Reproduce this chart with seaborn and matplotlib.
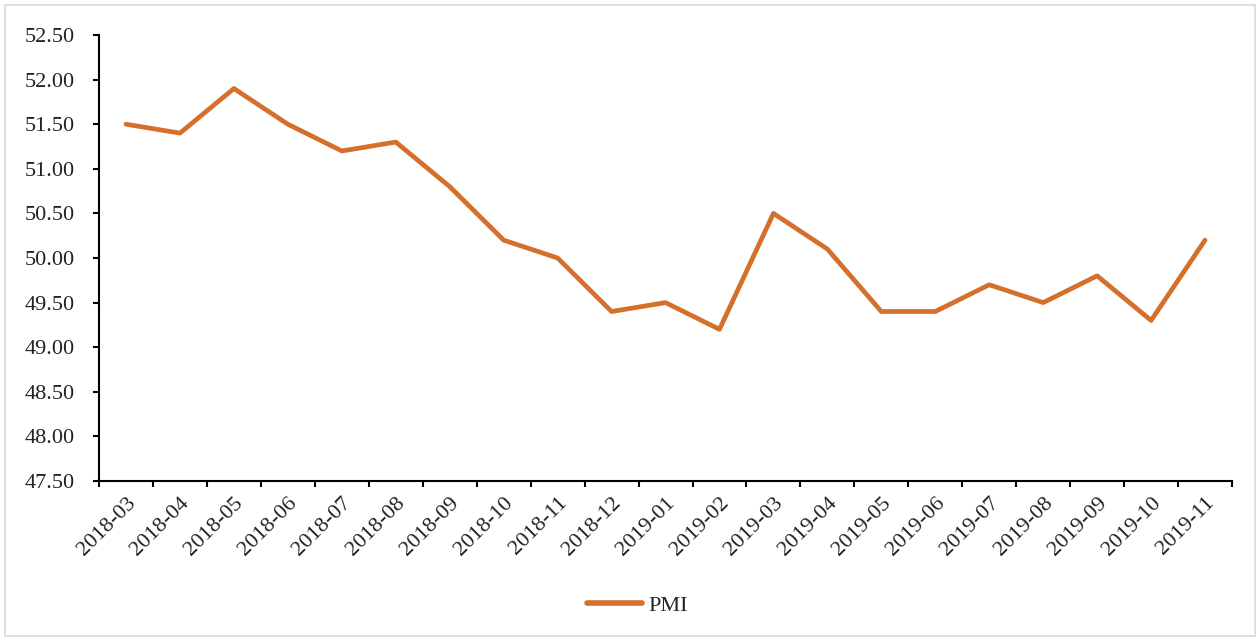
import matplotlib
matplotlib.use("Agg")
import matplotlib.pyplot as plt
import seaborn as sns
import pandas as pd
import numpy as np
from matplotlib.patches import Rectangle
from matplotlib.ticker import FixedLocator, FixedFormatter

months = ["2018-03", "2018-04", "2018-05", "2018-06", "2018-07", "2018-08", "2018-09",
          "2018-10", "2018-11", "2018-12", "2019-01", "2019-02", "2019-03", "2019-04",
          "2019-05", "2019-06", "2019-07", "2019-08", "2019-09", "2019-10", "2019-11"]
pmi = [51.5, 51.4, 51.9, 51.5, 51.2, 51.3, 50.8, 50.2, 50.0, 49.4, 49.5, 49.2,
       50.5, 50.1, 49.4, 49.4, 49.7, 49.5, 49.8, 49.3, 50.2]
y_ticks = [47.5, 48.0, 48.5, 49.0, 49.5, 50.0, 50.5, 51.0, 51.5, 52.0, 52.5]

sns.set_theme(style="white")
plt.rcParams['font.family'] = ['Liberation Serif', 'DejaVu Serif']

df = pd.DataFrame({"pos": np.arange(len(months)), "PMI": pmi, "series": "PMI"})

fig = plt.figure(figsize=(12.6, 6.39), dpi=100)
ax = fig.add_axes([0.0786, 0.2473, 0.9778 - 0.0786, 0.9452 - 0.2473])

color = "#D4702C"
FS = 16
sns.lineplot(data=df, x="pos", y="PMI", hue="series", palette=[color], ax=ax,
             linewidth=3.4, legend=True)

ax.set_xlim(-0.5, len(months) - 0.5)
ax.set_ylim(47.5, 52.5)
ax.set_yticks(y_ticks)
ax.set_yticklabels([f"{v:.2f}" for v in y_ticks], fontsize=FS, color="#222222")

ax.xaxis.set_major_locator(FixedLocator(np.arange(-0.5, len(months), 1.0)))
ax.xaxis.set_major_formatter(FixedFormatter([""] * (len(months) + 1)))
ax.xaxis.set_minor_locator(FixedLocator(np.arange(len(months))))
ax.xaxis.set_minor_formatter(FixedFormatter(months))
ax.tick_params(axis="x", which="minor", length=0, labelsize=FS, labelcolor="#222222", pad=9)
for lbl in ax.get_xticklabels(minor=True):
    lbl.set_rotation(45)
    lbl.set_ha("right")
    lbl.set_rotation_mode("anchor")
ax.tick_params(axis="x", which="major", direction="out", length=4.5, width=1.5, color="black", bottom=True)
ax.tick_params(axis="y", which="major", direction="out", length=4.5, width=1.5, color="black", left=True, pad=13)

ax.set_xlabel("")
ax.set_ylabel("")
for s in ["top", "right"]:
    ax.spines[s].set_visible(False)
for s in ["left", "bottom"]:
    ax.spines[s].set_color("black")
    ax.spines[s].set_linewidth(1.5)

leg = ax.legend(loc="center", bbox_to_anchor=(0.475, -0.28), frameon=False, fontsize=FS,
                handlelength=2.5, handletextpad=0.25)
for h in leg.get_lines():
    h.set_linewidth(4)
    h.set_solid_capstyle("round")

fig.add_artist(Rectangle((5 / 1260, 3 / 639), 1250 / 1260, 631 / 639, transform=fig.transFigure,
                         fill=False, edgecolor="#d9d9d9", linewidth=1.2))

fig.savefig("out.png", dpi=100)
